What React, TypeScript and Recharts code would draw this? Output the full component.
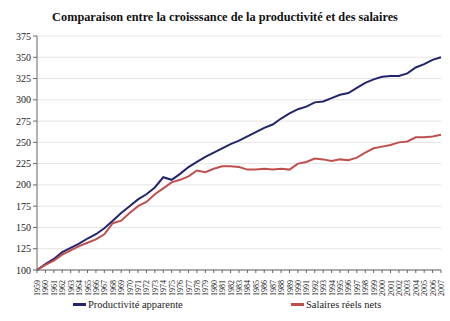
import { CartesianGrid, Legend, Line, LineChart, XAxis, YAxis } from "recharts";

const years = Array.from({ length: 49 }, (_, i) => String(1959 + i));

const productivite = [
  100, 107, 113, 121, 126, 131, 137, 142, 149, 158, 167, 175, 183, 189, 197,
  209, 206, 213, 221, 227, 233, 238, 243, 248, 252, 257, 262, 267, 271, 278,
  284, 289, 292, 297, 298, 302, 306, 308, 314, 320, 324, 327, 328, 328, 331,
  338, 342, 347, 350,
];

const salaires = [
  100, 106, 111, 118, 123, 128, 132, 136, 142, 155, 158, 167, 175, 180, 189,
  196, 203, 206, 210, 217, 215, 219, 222, 222, 221, 218, 218, 219, 218, 219,
  218, 225, 227, 231, 230, 228, 230, 229, 232, 238, 243, 245, 247, 250, 251,
  256, 256, 257, 259,
];

const yTicks = [100, 125, 150, 175, 200, 225, 250, 275, 300, 325, 350, 375];

const data = years.map((year, i) => ({
  year,
  prod: productivite[i],
  sal: salaires[i],
}));

const FONT = "Liberation Serif";
const BLUE = "#24246e";
const RED = "#c0504d";

function YearTick({ x, y, payload }: any) {
  return (
    <text
      x={0}
      y={0}
      transform={`translate(${x + 3},${y + 5}) rotate(-90)`}
      textAnchor="end"
      fontSize={8}
      fontFamily={FONT}
      fill="#222"
    >
      {payload.value}
    </text>
  );
}

function LegendBox() {
  const item = (left: number, color: string, label: string) => (
    <div
      style={{
        position: "absolute",
        left,
        top: 0,
        display: "flex",
        alignItems: "center",
        whiteSpace: "nowrap",
        fontFamily: FONT,
      }}
    >
      <span
        style={{
          display: "inline-block",
          width: 13,
          height: 2.5,
          background: color,
          marginRight: 2,
        }}
      />
      <span style={{ fontSize: 10.5, fontFamily: FONT, color: "#222" }}>
        {label}
      </span>
    </div>
  );
  return (
    <div
      style={{
        position: "relative",
        width: 450,
        height: 26,
        top: 4,
        fontFamily: FONT,
      }}
    >
      {item(73, BLUE, "Productivité apparente")}
      {item(291, RED, "Salaires réels nets")}
    </div>
  );
}

export default function App() {
  return (
    <div
      style={{
        position: "absolute",
        left: 0,
        top: 0,
        width: 450,
        height: 321,
        background: "#fff",
        fontFamily: FONT,
      }}
    >
      <div
        style={{
          position: "absolute",
          top: 10,
          left: 0,
          width: 450,
          textAlign: "center",
          fontFamily: FONT,
          fontWeight: "bold",
          fontSize: 12.3,
          color: "#111",
        }}
      >
        Comparaison entre la croisssance de la productivité et des salaires
      </div>
      <LineChart
        width={450}
        height={321}
        data={data}
        margin={{ top: 36, right: 9, left: 0, bottom: 0 }}
        style={{ fontFamily: FONT }}
      >
        <CartesianGrid vertical={false} stroke="#e4e4e4" />
        <XAxis
          dataKey="year"
          interval={0}
          height={25}
          tick={<YearTick />}
          tickLine={{ stroke: "#666" }}
          tickSize={3}
          axisLine={{ stroke: "#666" }}
        />
        <YAxis
          width={37}
          domain={[100, 375]}
          ticks={yTicks}
          interval={0}
          tick={{ fontSize: 10, fontFamily: FONT, fill: "#222" }}
          tickLine={{ stroke: "#666" }}
          tickSize={4}
          axisLine={{ stroke: "#666" }}
        />
        <Legend
          verticalAlign="bottom"
          height={26}
          wrapperStyle={{ fontFamily: FONT }}
          content={<LegendBox />}
        />
        <Line
          dataKey="prod"
          stroke={BLUE}
          strokeWidth={2}
          dot={false}
          isAnimationActive={false}
        />
        <Line
          dataKey="sal"
          stroke={RED}
          strokeWidth={2}
          dot={false}
          isAnimationActive={false}
        />
      </LineChart>
    </div>
  );
}
